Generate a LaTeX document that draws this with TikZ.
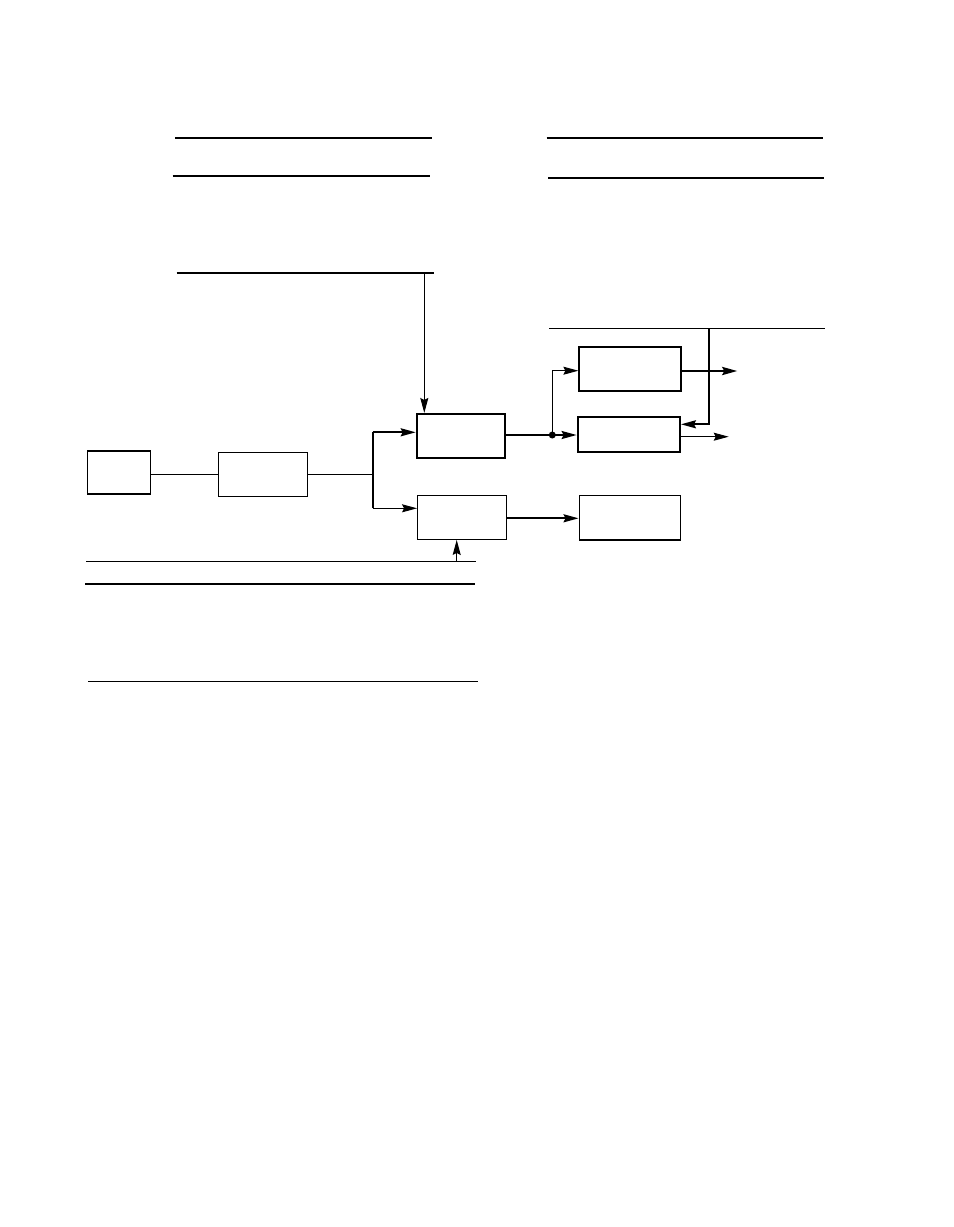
\documentclass[tikz,border=0pt]{standalone}
\usepackage{tikz}
\usetikzlibrary{arrows.meta}

\begin{document}
\begin{tikzpicture}[x=1bp,y=-1bp,
	box/.style={draw,line width=1.5bp,inner sep=0pt,minimum width=#1},
	box/.default=89bp,
	>={Stealth[length=15bp,width=8bp,inset=2bp]}]
	\useasboundingbox (0,0) rectangle (954,1227);
	%% buses, top left
	\draw[line width=2bp] (175,137.7) -- (431.7,137.7);
	\draw[line width=2bp] (172.7,175.7) -- (430,175.7);
	\draw[line width=2bp] (176.7,272.7) coordinate (tl) -- (434,272.7);
	%% buses, top right
	\draw[line width=2bp] (546.7,137.7) -- (822.7,137.7);
	\draw[line width=2bp] (548.3,177.7) -- (824,177.7);
	\draw[line width=1bp] (549,328.5) -- (825,328.5);
	%% buses, bottom
	\draw[line width=1bp] (86,561.7) coordinate (bl) -- (476,561.7);
	\draw[line width=2bp] (85,583.7) -- (475,583.7);
	\draw[line width=1bp] (88.3,681) -- (477.7,681);
	%% blocks
	\node[box=63.4bp,minimum height=43bp] (src) at (119,472.5) {};
	\node[box,minimum height=44.4bp,line width=1.2bp] (mid) at (263.2,474.5) {};
	\node[box=88.6bp,minimum height=43.7bp,line width=2bp] (upA) at (461,435.8) {};
	\node[box=88.6bp,minimum height=43.6bp,line width=1.3bp] (lowA) at (462,517.5) {};
	\node[box=101.7bp,minimum height=44bp,line width=2bp] (upB) at (630.2,368.7) {};
	\node[box=102.3bp,minimum height=34.7bp,line width=2bp] (midB) at (628.8,434.7) {};
	\node[box=101bp,minimum height=44.7bp] (lowB) at (629.8,517.7) {};
	%% links
	\coordinate (split) at (372.7,474.3);
	\coordinate (dot) at (552.3,435);
	\draw[line width=1bp] (src.east |- split) -- (mid.west |- split);
	\draw[line width=1bp] (mid.east |- split) -- (split);
	\draw[line width=2bp] (372.7,432.3) coordinate (su) -- (372.7,508.3) coordinate (sd);
	\draw[line width=2bp,->] (su) -- (su -| upA.west);
	\draw[line width=1bp,->] (sd) -- (sd -| lowA.west);
	\draw[line width=2bp] (upA.east |- dot) -- (dot);
	\draw[line width=2bp,->] (dot) -- (dot -| midB.west);
	\fill (dot) circle[radius=3.5bp];
	\draw[line width=1bp,->] (dot) |- (upB.west |- 0,370.7);
	\draw[line width=2bp,->] (lowA.east |- 0,518.3) -- (lowB.west |- 0,518.3);
	%% outputs
	\draw[line width=2.5bp,->] (upB.east |- 0,371) -- (737.3,371);
	\draw[line width=1bp,->] (midB.east |- 0,436.7) -- (728.7,436.7);
	%% feedback from top right bus
	\draw[line width=2bp,->] (709.3,328.5) -- (709.3,424.3) -- (midB.east |- 0,424.3);
	%% taps from the buses
	\draw[line width=1bp,->] (424.3,272.7) -- (424.3,0 |- upA.north);
	\draw[line width=1bp,->] (456.7,561.7) -- (lowA.south -| 456.7,0);
\end{tikzpicture}
\end{document}
